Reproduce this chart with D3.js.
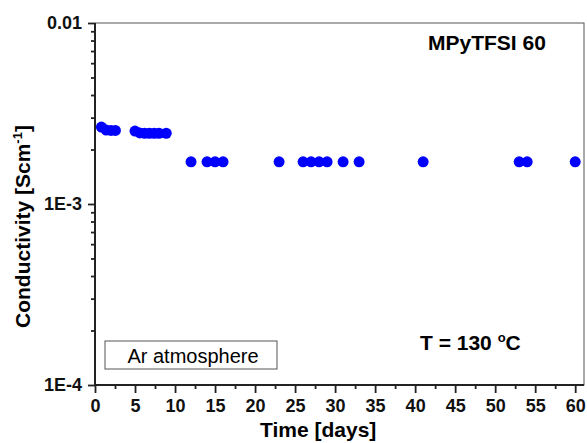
<!DOCTYPE html>
<html>
<head>
<meta charset="utf-8">
<script src="https://cdn.jsdelivr.net/npm/d3@7"></script>
<style>
  body { margin: 0; background: #fff; }
  text { font-family: "Liberation Sans", Arial, sans-serif; }
</style>
</head>
<body>
<svg width="587" height="443"></svg>
<script>
// Time in days and conductivity in S/cm
const days = [0.8, 1.4, 2, 2.55,
  5, 5.6, 6.2, 6.8, 7.4, 8, 8.9,
  12, 14, 15, 16, 23, 26, 27, 28, 29, 31, 33, 41, 53, 54, 60];
const sigma = [2.66e-3, 2.56e-3, 2.55e-3, 2.55e-3,
  2.53e-3, 2.47e-3, 2.46e-3, 2.46e-3, 2.46e-3, 2.46e-3, 2.46e-3,
  1.71e-3, 1.71e-3, 1.71e-3, 1.71e-3, 1.71e-3, 1.71e-3, 1.71e-3, 1.71e-3,
  1.71e-3, 1.71e-3, 1.71e-3, 1.71e-3, 1.71e-3, 1.71e-3, 1.71e-3];
const xTicks = [0, 5, 10, 15, 20, 25, 30, 35, 40, 45, 50, 55, 60];
const yTicks = [1e-4, 1e-3, 1e-2];
const yTickLabels = ["1E-4", "1E-3", "0.01"];

const margin = {top: 23, right: 3, bottom: 58, left: 95},
    width = 587 - margin.left - margin.right,
    height = 443 - margin.top - margin.bottom;

const svg = d3.select("svg")
    .append("g")
    .attr("transform", `translate(${margin.left},${margin.top})`);

const x = d3.scaleLinear().domain([0, 61.1]).range([0, width]);
const y = d3.scaleLog().domain([1e-4, 1e-2]).range([height, 0]);

// frame (top and right)
svg.append("rect")
    .attr("width", width).attr("height", height)
    .attr("fill", "none").attr("stroke", "#555").attr("stroke-width", 1);

// minor ticks
const xMinor = d3.range(2.5, 61, 5);
const xAxisMinor = svg.append("g")
    .attr("transform", `translate(0,${height})`)
    .call(d3.axisBottom(x).tickValues(xMinor).tickSize(4).tickFormat(""));
const yMinor = [];
[1e-4, 1e-3].forEach(d => { for (let k = 2; k <= 9; k++) yMinor.push(d * k); });
const yAxisMinor = svg.append("g")
    .call(d3.axisLeft(y).tickValues(yMinor).tickSize(4).tickFormat(""));

// major axes
const xAxis = svg.append("g")
    .attr("transform", `translate(0,${height})`)
    .call(d3.axisBottom(x).tickValues(xTicks).tickSize(8).tickPadding(6).tickFormat(d3.format("d")));
const yAxis = svg.append("g")
    .call(d3.axisLeft(y).tickValues(yTicks).tickSize(7).tickPadding(6)
      .tickFormat((d, i) => yTickLabels[i]));

[xAxisMinor, yAxisMinor, xAxis, yAxis].forEach(g => {
  g.selectAll("path").remove();
  g.selectAll("line").attr("stroke", "#222").attr("stroke-width", 1.8);
});
[xAxis, yAxis].forEach(g => {
  g.attr("font-size", 18).attr("font-family", null);
  g.selectAll("text").attr("font-weight", "bold").attr("fill", "#111");
});

// bottom and left axis lines
svg.append("line").attr("x1", 0).attr("x2", width).attr("y1", height).attr("y2", height)
    .attr("stroke", "#222").attr("stroke-width", 2);
svg.append("line").attr("x1", 0).attr("x2", 0).attr("y1", 0).attr("y2", height)
    .attr("stroke", "#222").attr("stroke-width", 2);

// points
svg.selectAll("circle.pt")
    .data(days)
    .join("circle")
    .attr("class", "pt")
    .attr("cx", d => x(d))
    .attr("cy", (d, i) => y(sigma[i]))
    .attr("r", 5.5)
    .attr("fill", "#0000ff");

// axis titles
svg.append("text")
    .attr("x", 165).attr("y", 414)
    .attr("font-size", 21).attr("font-weight", "bold")
    .text("Time [days]");

const yl = svg.append("text")
    .attr("transform", `translate(-65,305) rotate(-90)`)
    .attr("font-size", 21).attr("font-weight", "bold");
yl.append("tspan").text("Conductivity [Scm");
yl.append("tspan").attr("dy", -8).attr("font-size", 13).text("-1");
yl.append("tspan").attr("dy", 8).text("]");

// annotations
svg.append("text")
    .attr("x", 333).attr("y", 27)
    .attr("font-size", 21).attr("font-weight", "bold")
    .text("MPyTFSI 60");

const t = svg.append("text")
    .attr("x", 325).attr("y", 327)
    .attr("font-size", 21).attr("font-weight", "bold");
t.append("tspan").text("T = 130 ");
t.append("tspan").attr("dy", -8).attr("font-size", 13).text("o");
t.append("tspan").attr("dy", 8).text("C");

svg.append("rect")
    .attr("x", 10).attr("y", 318).attr("width", 172).attr("height", 28)
    .attr("fill", "none").attr("stroke", "#555").attr("stroke-width", 1);
svg.append("text")
    .attr("x", 98).attr("y", 340)
    .attr("text-anchor", "middle").attr("font-size", 20)
    .text("Ar atmosphere");
</script>
</body>
</html>
